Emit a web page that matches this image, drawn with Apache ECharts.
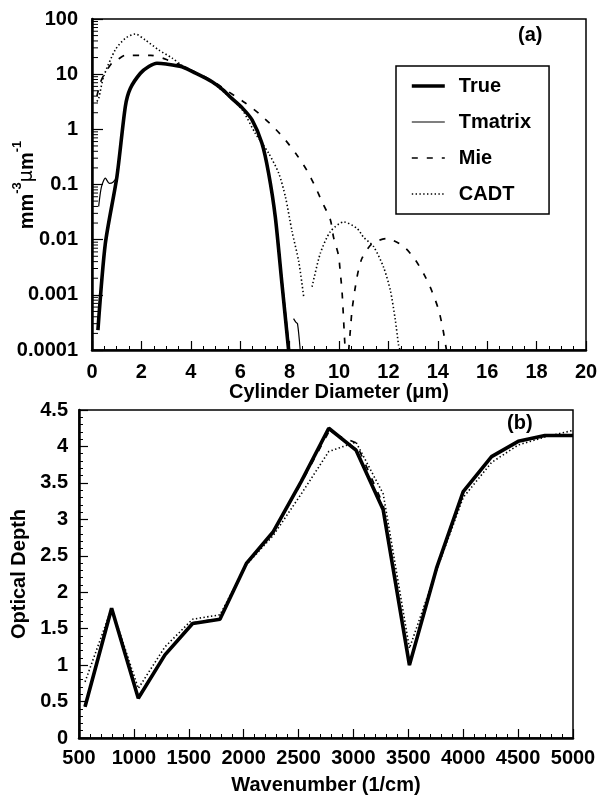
<!DOCTYPE html>
<html><head><meta charset="utf-8">
<script src="https://cdn.jsdelivr.net/npm/echarts/dist/echarts.min.js"></script>
<style>html,body{margin:0;padding:0;background:#fff}#c{width:597px;height:796px}</style>
</head><body><div id="c"></div>
<script>
// ---------- Panel (a): size distributions ----------
const trueD = [0.24, 0.54, 1.01, 1.35, 1.55, 1.96, 2.3, 2.63, 3.0, 3.64, 4.2, 4.86, 5.3, 5.67, 6.1, 6.48, 6.88, 7.15, 7.42, 7.69, 7.96];
const trueV = [0.00023, 0.0085, 0.14, 2.6, 5.5, 10.4, 13.8, 15.8, 15.3, 13.6, 10.4, 7.3, 5.2, 3.6, 2.4, 1.48, 0.56, 0.16, 0.026, 0.0016, 0.0001];

const tmD = [0.27, 0.38, 0.54, 0.70, 0.85, 1.01, 1.35, 1.55, 1.96, 2.3, 2.63, 3.0, 3.64, 4.2, 4.86, 5.3, 5.67, 6.1, 6.48, 6.88, 7.15, 7.42, 7.69, 8.0, 8.08, 8.16, 8.25, 8.32, 8.43];
const tmV = [0.04, 0.09, 0.13, 0.105, 0.11, 0.14, 2.6, 5.5, 10.4, 13.8, 15.8, 15.3, 13.6, 10.4, 7.3, 5.2, 3.6, 2.4, 1.48, 0.56, 0.17, 0.03, 0.002, 0.0001, null, 0.00037, 0.00032, 0.0003, 0.0001];

const mieD = [0.2, 0.34, 0.5, 0.81, 1.01, 1.35, 1.62, 2.1, 2.38, 2.86, 3.06, 3.64, 4.2, 4.86, 5.53, 6.21, 6.75, 7.35, 7.83, 8.3, 8.7, 9.04, 9.31, 9.65, 9.78, 9.98, 10.05, 10.12, 10.32, 10.46, 10.53, 10.73, 10.93, 11.34, 11.94, 12.62, 13.09, 13.5, 13.77, 14.03, 14.2, 14.35];
const mieV = [4, 7, 10, 16, 18, 22, 22, 22, 22, 19.5, 18, 14.2, 10.8, 7.6, 4.8, 3.0, 1.95, 1.1, 0.64, 0.34, 0.18, 0.091, 0.049, 0.023, 0.011, 0.0052, 0.0026, 0.0012, 0.00005, 0.00023, 0.00054, 0.0021, 0.0046, 0.0085, 0.0105, 0.0075, 0.0043, 0.0021, 0.00114, 0.00054, 0.00025, 0.0001];

const cadtD = [0.2, 0.27, 0.47, 0.94, 1.35, 1.75, 2.16, 2.7, 3.24, 3.64, 4.2, 4.86, 5.67, 6.1, 6.61, 7.15, 7.56, 7.83, 8.1, 8.37, 8.57, 8.74, 8.91, 9.24, 9.65, 10.19, 10.73, 11.0, 11.4, 11.8, 12.08, 12.28, 12.41, 12.47];
const cadtV = [3.2, 3.6, 9.0, 27.5, 44.7, 53.5, 41.6, 27.5, 19.6, 14.5, 10.5, 7.1, 3.5, 2.2, 0.85, 0.37, 0.16, 0.06, 0.014, 0.004, 0.00093, null, 0.0014, 0.0056, 0.014, 0.021, 0.016, 0.011, 0.0075, 0.0032, 0.0012, 0.00035, 0.000125, 0.0001];

const logTickLabels = ['0.0001', '0.001', '0.01', '0.1', '1', '10', '100'];
const logMinExp = -4;

// ---------- Panel (b): optical depth spectra ----------
const wn = [555, 797, 1040, 1283, 1535, 1784, 2027, 2270, 2525, 2775, 3023, 3271, 3510, 3757, 4000, 4258, 4501, 4744, 5000];
const trueOD = [0.43, 1.78, 0.545, 1.14, 1.57, 1.63, 2.40, 2.83, 3.52, 4.25, 3.95, 3.13, 1.0, 2.33, 3.38, 3.86, 4.07, 4.15, 4.15];
const tmOD   = [0.43, 1.78, 0.55, 1.14, 1.57, 1.63, 2.40, 2.83, 3.52, 4.23, 3.97, 3.15, 1.0, 2.33, 3.38, 3.86, 4.07, 4.15, 4.15];
const mieOD  = [0.43, 1.78, 0.56, 1.15, 1.58, 1.64, 2.40, 2.83, 3.50, 4.20, 4.05, 3.20, 1.02, 2.33, 3.38, 3.86, 4.07, 4.15, 4.15];
const cadtOD = [0.77, 1.78, 0.68, 1.25, 1.63, 1.69, 2.38, 2.78, 3.35, 3.93, 4.06, 3.35, 1.23, 2.30, 3.30, 3.78, 4.02, 4.13, 4.22];

const seriesNames = ['True', 'Tmatrix', 'Mie', 'CADT'];

// ---------- helpers ----------
const zip = (xs, ys) => xs.map((x, i) => [x, ys[i] === null ? '-' : ys[i]]);
const FONT = 'Liberation Sans, Arial, Helvetica, sans-serif';
const txt = { color: '#000', fontFamily: FONT, fontWeight: 'bold', fontSize: 20 };

const minorLog = [];
for (let e = logMinExp; e < 2; e++) for (let m = 2; m <= 9; m++) minorLog.push([0, m * Math.pow(10, e)]);

const styles = {
  True:    { color: '#000', width: 3.6, type: 'solid' },
  Tmatrix: { color: '#000', width: 1.2, type: 'solid' },
  Mie:     { color: '#000', width: 1.7, type: [6, 9] },
  CADT:    { color: '#000', width: 1.6, type: [1.4, 2.4] }
};
function line(name, data, xi, yi, z, smooth) {
  return { name, type: 'line', xAxisIndex: xi, yAxisIndex: yi, data, symbol: 'none', showSymbol: false,
    smooth: smooth, z: z, lineStyle: styles[name], itemStyle: { color: '#000' }, connectNulls: false, animation: false };
}

const axisLine = { show: true, onZero: false, lineStyle: { color: '#000', width: 2.5 } };

const chart = echarts.init(document.getElementById('c'), null, { renderer: 'canvas' });
chart.setOption({
  animation: false,
  backgroundColor: '#fff',
  grid: [
    { left: 92, top: 19, width: 494, height: 331, show: true, borderColor: '#000', borderWidth: 1.5, containLabel: false, outerBoundsMode: 'none' },
    { left: 79, top: 410, width: 494, height: 328, show: true, borderColor: '#000', borderWidth: 1.5, containLabel: false, outerBoundsMode: 'none' }
  ],
  legend: {
    data: seriesNames, orient: 'vertical', left: 396, top: 66,
    padding: [10, 18, 10, 14], itemWidth: 33, itemHeight: 20, itemGap: 16,
    borderColor: '#000', borderWidth: 1.5, backgroundColor: '#fff',
    itemStyle: { opacity: 0, color: 'rgba(0,0,0,0)', borderWidth: 0 },
    lineStyle: { width: 'inherit', type: 'inherit', color: '#000', opacity: 1 },
    textStyle: Object.assign({}, txt, { padding: [0, 0, 0, 9] }),
    selectedMode: false
  },
  xAxis: [
    { gridIndex: 0, type: 'value', min: 0, max: 20, interval: 2,
      axisLine, axisTick: { inside: true, length: 9, lineStyle: { color: '#000', width: 1.2 } },
      minorTick: { show: true, splitNumber: 4, length: 4, lineStyle: { color: '#000', width: 1 } },
      splitLine: { show: false }, minorSplitLine: { show: false },
      axisLabel: Object.assign({ margin: 12 }, txt),
      name: 'Cylinder Diameter (μm)', nameLocation: 'middle', nameGap: 29, nameTextStyle: txt },
    { gridIndex: 1, type: 'value', min: 500, max: 5000, interval: 500,
      axisLine, axisTick: { inside: true, length: 9, lineStyle: { color: '#000', width: 1.2 } },
      minorTick: { show: true, splitNumber: 5, length: 4, lineStyle: { color: '#000', width: 1 } },
      splitLine: { show: false },
      axisLabel: Object.assign({ margin: 10, formatter: v => String(v) }, txt),
      name: 'Wavenumber (1/cm)', nameLocation: 'middle', nameGap: 37, nameTextStyle: txt }
  ],
  yAxis: [
    { gridIndex: 0, type: 'log', logBase: 10, min: 0.0001, max: 100,
      axisLine, axisTick: { inside: true, length: 11, lineStyle: { color: '#000', width: 1.2 } },
      splitLine: { show: false },
      axisLabel: Object.assign({ margin: 14, formatter: v => logTickLabels[Math.round(Math.log10(v)) - logMinExp] }, txt) },
    { gridIndex: 1, type: 'value', min: 0, max: 4.5, interval: 0.5,
      axisLine, axisTick: { inside: true, length: 9, lineStyle: { color: '#000', width: 1.2 } },
      minorTick: { show: true, splitNumber: 5, length: 4, lineStyle: { color: '#000', width: 1 } },
      splitLine: { show: false },
      axisLabel: Object.assign({ margin: 11 }, txt),
      name: 'Optical Depth', nameLocation: 'middle', nameGap: 38, nameRotate: 90, nameTextStyle: txt }
  ],
  graphic: [
    { type: 'text', left: 518, top: 25, style: { text: '(a)', font: 'bold 20px ' + FONT, fill: '#000' } },
    { type: 'text', left: 507, top: 413, style: { text: '(b)', font: 'bold 20px ' + FONT, fill: '#000' } },
    { type: 'text', x: 24, y: 185, rotation: Math.PI / 2,
      style: { text: '{b|mm}{s|-3}{g|μ}{b|m}{s|-1}', align: 'center', verticalAlign: 'middle',
        rich: {
          b: { fill: '#000', fontFamily: FONT, fontWeight: 'bold', fontSize: 20, lineHeight: 26, verticalAlign: 'bottom' },
          g: { fill: '#000', fontFamily: 'DejaVu Sans', fontWeight: 'normal', fontSize: 19, lineHeight: 26, verticalAlign: 'bottom' },
          s: { fill: '#000', fontFamily: FONT, fontWeight: 'bold', fontSize: 13, lineHeight: 26, verticalAlign: 'top' }
        } } }
  ],
  series: [
    { name: 'logMinor', type: 'custom', xAxisIndex: 0, yAxisIndex: 0, data: minorLog, silent: true, z: 5,
      renderItem: (params, api) => {
        const p = api.coord([api.value(0), api.value(1)]);
        return { type: 'line', shape: { x1: p[0], y1: p[1], x2: p[0] + 6, y2: p[1] }, style: { stroke: '#000', lineWidth: 1 } };
      } },
    line('CADT', zip(cadtD, cadtV), 0, 0, 2, 0.25),
    line('Mie', zip(mieD, mieV), 0, 0, 2, 0.25),
    line('Tmatrix', zip(tmD, tmV), 0, 0, 3, 0.25),
    line('True', zip(trueD, trueV), 0, 0, 4, 0.25),
    line('CADT', zip(wn, cadtOD), 1, 1, 2, false),
    line('Mie', zip(wn, mieOD), 1, 1, 2, false),
    line('Tmatrix', zip(wn, tmOD), 1, 1, 3, false),
    line('True', zip(wn, trueOD), 1, 1, 4, false)
  ]
});
</script></body></html>
